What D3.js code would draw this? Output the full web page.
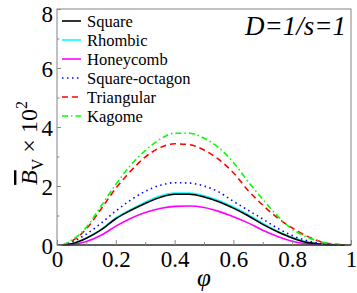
<!DOCTYPE html>
<html>
<head>
<meta charset="utf-8">
<script src="https://cdn.jsdelivr.net/npm/d3@7"></script>
<style>
  body { margin: 0; background: #fff; }
  svg { display: block; }
  svg text { font-family: "Liberation Serif", "DejaVu Serif", serif; }
</style>
</head>
<body>
<svg id="chart" width="357" height="293"></svg>
<script>
  // phi grid the curves were read at
  const phi = [0.02, 0.05, 0.1, 0.15, 0.2, 0.25, 0.3, 0.35, 0.4, 0.45, 0.5, 0.55, 0.6, 0.65, 0.7, 0.75, 0.8, 0.85, 0.9, 0.95, 0.98];

  const square     = [0, 0.04, 0.23, 0.51, 0.89, 1.17, 1.41, 1.61, 1.72, 1.72, 1.63, 1.47, 1.25, 0.99, 0.70, 0.45, 0.24, 0.09, 0.03, 0.005, 0];
  const rhombic    = [0, 0.04, 0.24, 0.53, 0.92, 1.20, 1.45, 1.66, 1.76, 1.76, 1.67, 1.51, 1.29, 1.03, 0.73, 0.47, 0.26, 0.10, 0.03, 0.005, 0];
  const honeycomb  = [0, 0.02, 0.12, 0.33, 0.64, 0.90, 1.10, 1.24, 1.31, 1.32, 1.27, 1.14, 0.96, 0.75, 0.50, 0.29, 0.13, 0.04, 0.01, 0, 0];
  const squareOct  = [0, 0.10, 0.37, 0.74, 1.15, 1.52, 1.82, 2.02, 2.11, 2.10, 2.00, 1.80, 1.48, 1.18, 0.88, 0.57, 0.32, 0.15, 0.05, 0.01, 0];
  const triangular = [0, 0.13, 0.55, 1.22, 1.92, 2.50, 2.98, 3.30, 3.43, 3.40, 3.22, 2.90, 2.45, 1.85, 1.35, 0.92, 0.58, 0.30, 0.10, 0.02, 0];
  const kagome     = [0, 0.16, 0.60, 1.32, 2.05, 2.70, 3.20, 3.58, 3.79, 3.79, 3.62, 3.30, 2.80, 2.15, 1.55, 0.98, 0.54, 0.27, 0.10, 0.02, 0];

  const names = ['Square', 'Rhombic', 'Honeycomb', 'Square-octagon', 'Triangular', 'Kagome'];
  const colors = ['#000000', '#00ffff', '#ff00ff', '#0000ff', '#ff0000', '#00ff00'];
  const dashes = [null, null, null, '1.5,3.5', '6,4', '6,3,1.5,3'];
  const allSeries = [square, rhombic, honeycomb, squareOct, triangular, kagome];

  const xTicks = [0, 0.2, 0.4, 0.6, 0.8, 1];
  const yTicks = [0, 2, 4, 6, 8];

  const svg = d3.select('#chart');
  const mLeft = 57, mRight = 351, mTop = 9, mBottom = 245;
  const serif = '"Liberation Serif", "DejaVu Serif", serif';

  const x = d3.scaleLinear().domain([0, 1]).range([mLeft, mRight]);
  const y = d3.scaleLinear().domain([0, 8]).range([mBottom, mTop]);

  // curves (drawn first so the frame sits on top)
  const line = d3.line()
    .x(d => x(d[0]))
    .y(d => y(d[1]))
    .curve(d3.curveMonotoneX);

  // draw back to front so black/cyan order matches
  [2, 1, 0, 3, 4, 5].forEach(i => {
    svg.append('path')
      .datum(phi.map((p, k) => [p, allSeries[i][k]]))
      .attr('d', line)
      .attr('fill', 'none')
      .attr('stroke', colors[i])
      .attr('stroke-width', 1.6)
      .attr('stroke-dasharray', dashes[i]);
  });

  // frame
  svg.append('rect')
    .attr('x', mLeft).attr('y', mTop)
    .attr('width', mRight - mLeft).attr('height', mBottom - mTop)
    .attr('fill', 'none')
    .attr('stroke', '#999')
    .attr('stroke-width', 1.2);

  svg.append('line')
    .attr('x1', mLeft).attr('x2', mRight)
    .attr('y1', mBottom).attr('y2', mBottom)
    .attr('stroke', '#000').attr('stroke-width', 1.2);

  // axes with inward ticks
  const xAxis = svg.append('g').attr('transform', `translate(0,${mBottom})`)
    .call(d3.axisBottom(x).tickValues(xTicks).tickSize(-5).tickFormat(d3.format('~g')));
  svg.append('g').attr('transform', `translate(0,${mBottom})`)
    .call(d3.axisBottom(x).tickValues([0.1, 0.3, 0.5, 0.7, 0.9]).tickSize(-3).tickFormat(''))
    .call(g => g.select('.domain').remove())
    .selectAll('line').attr('stroke', '#888');
  xAxis.attr('font-family', null).attr('font-size', null);
  xAxis.select('.domain').remove();
  xAxis.selectAll('line').attr('stroke', '#888');
  xAxis.selectAll('text')
    .attr('y', 22)
    .attr('dy', 0)
    .attr('fill', '#000')
    .style('font-size', '23px')
    .style('font-family', serif);

  const yAxis = svg.append('g').attr('transform', `translate(${mLeft},0)`)
    .call(d3.axisLeft(y).tickValues(yTicks).tickSize(-4));
  svg.append('g').attr('transform', `translate(${mLeft},0)`)
    .call(d3.axisLeft(y).tickValues([1, 3, 5, 7]).tickSize(-2.5).tickFormat(''))
    .call(g => g.select('.domain').remove())
    .selectAll('line').attr('stroke', '#888');
  yAxis.attr('font-family', null).attr('font-size', null);
  yAxis.select('.domain').remove();
  yAxis.selectAll('line').attr('stroke', '#888');
  yAxis.selectAll('text')
    .attr('x', -4)
    .attr('dy', '0.36em')
    .attr('y', d => d === 8 ? 4 : 0)   // top label sits a bit lower, like the original
    .attr('fill', '#000')
    .style('font-size', '23px')
    .style('font-family', serif);

  // legend
  const legend = svg.append('g');
  names.forEach((n, i) => {
    const ly = 21 + i * 19;
    legend.append('line')
      .attr('x1', 62).attr('x2', 81)
      .attr('y1', ly).attr('y2', ly)
      .attr('stroke', colors[i])
      .attr('stroke-width', 1.6)
      .attr('stroke-dasharray', dashes[i]);
    legend.append('text')
      .attr('x', 87).attr('y', ly + 6)
      .style('font-size', '16.5px')
      .text(n);
  });

  // annotation
  svg.append('text')
    .attr('x', 346).attr('y', 35)
    .attr('text-anchor', 'end')
    .style('font-size', '27px')
    .style('font-style', 'italic')
    .text('D=1/s=1');

  // axis titles
  svg.append('text')
    .attr('x', 204).attr('y', 286)
    .attr('text-anchor', 'middle')
    .style('font-size', '25px')
    .style('font-style', 'italic')
    .text('\u03c6');

  const yt = svg.append('text')
    .attr('transform', 'translate(37,143) rotate(-90)')
    .attr('text-anchor', 'middle')
    .style('font-size', '24px');
  yt.append('tspan').style('font-style', 'italic').style('text-decoration', 'overline').text('B');
  yt.append('tspan').attr('dy', 6).style('font-size', '16px').text('V');
  yt.append('tspan').attr('dy', -6).text(' \u00d7 10');
  yt.append('tspan').attr('dy', -10).style('font-size', '16px').text('2');
</script>
</body>
</html>
